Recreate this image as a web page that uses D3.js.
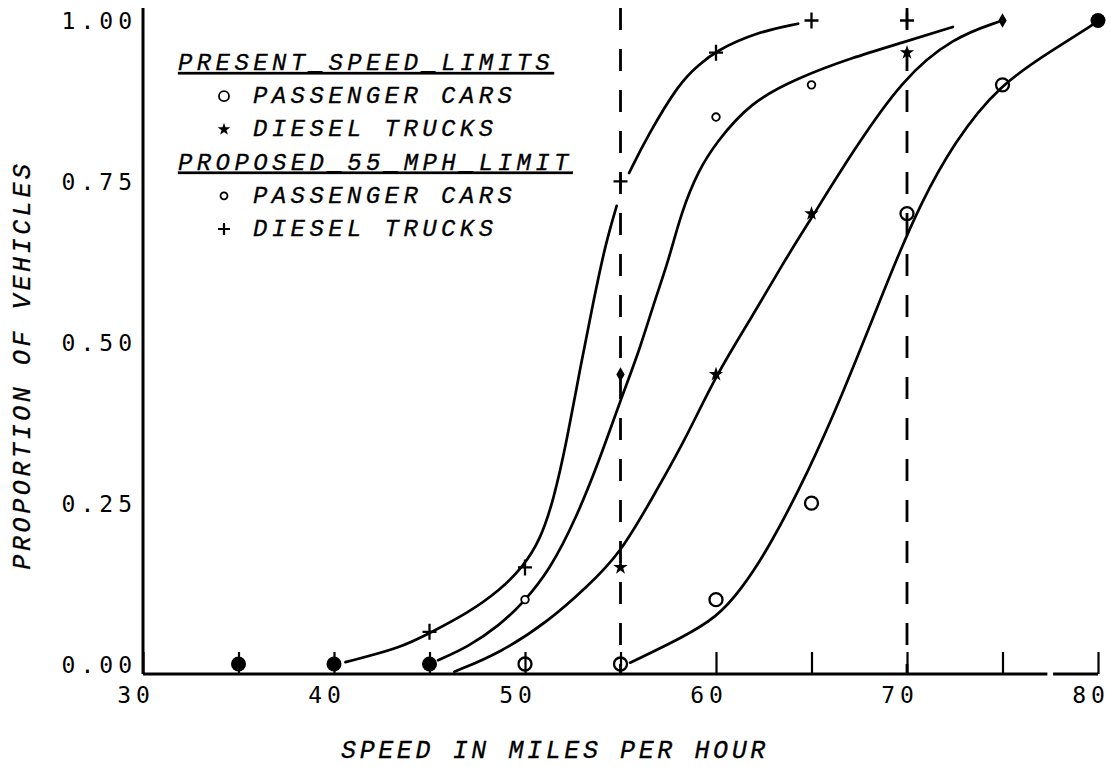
<!DOCTYPE html>
<html>
<head>
<meta charset="utf-8">
<script src="https://cdn.jsdelivr.net/npm/d3@7"></script>
<style>
  body { margin: 0; background: #fff; }
  svg { display: block; }
  .tick text { font-family: "DejaVu Sans Mono", monospace; font-size: 23px; letter-spacing: 5px; fill: #000; }
  .title { font-family: "Liberation Mono", "Courier New", monospace; font-style: italic; font-size: 25px; letter-spacing: 3.6px; fill: #000; stroke: #000; stroke-width: 0.3px; }
  .legend text { font-family: "Liberation Mono", "Courier New", monospace; font-style: italic; font-size: 24px; letter-spacing: 4.4px; fill: #000; stroke: #000; stroke-width: 0.3px; }
</style>
</head>
<body>
<svg width="1111" height="767"></svg>
<script>
// x ticks / y ticks
const xTicks = [30, 35, 40, 45, 50, 55, 60, 65, 70, 75, 80];
const yTicks = [0, 0.25, 0.5, 0.75, 1];
const limitLines = [55, 70];

// observed points (speed, proportion)
const presentCarsSpeed = [50, 55, 60, 65, 70, 75];
const presentCarsValue = [0, 0, 0.10, 0.25, 0.70, 0.90];
const presentTrucksSpeed = [55, 60, 65, 70];
const presentTrucksValue = [0.15, 0.45, 0.70, 0.95];
const proposedCarsSpeed = [50, 60, 65];
const proposedCarsValue = [0.10, 0.85, 0.90];
const proposedTrucksSpeed = [45, 50, 55, 60, 65, 70];
const proposedTrucksValue = [0.05, 0.15, 0.75, 0.95, 1.00, 1.00];
// points where several series coincide
const allSeriesSpeed = [35, 40, 45, 80];
const allSeriesValue = [0, 0, 0, 1];
const mixedSpeed = [55, 75];
const mixedValue = [0.45, 1.00];

// fitted curves
const propTruckLoSpeed = [40.6, 40.6, 43.5, 45.0, 47.0, 48.7, 49.9, 50.8, 51.5, 52.2, 52.9, 53.6, 54.2, 54.8, 54.8];
const propTruckLoValue = [0.003, 0.003, 0.025, 0.048, 0.079, 0.115, 0.151, 0.193, 0.255, 0.348, 0.462, 0.566, 0.651, 0.712, 0.712];
const propTruckHiSpeed = [55.45, 55.45, 56.4, 58.1, 59.1, 60.0, 62.15, 64.3, 64.3];
const propTruckHiValue = [0.763, 0.763, 0.82, 0.904, 0.931, 0.953, 0.982, 0.995, 0.995];
const propCarSpeed = [45.45, 45.45, 47.0, 48.7, 49.9, 51.3, 52.7, 53.9, 55.0, 56.0, 56.8, 57.5, 58.2, 59.1, 60.0, 61.8, 64.3, 67.1, 69.8, 72.4, 72.4];
const propCarValue = [0.006, 0.006, 0.026, 0.061, 0.095, 0.146, 0.228, 0.317, 0.41, 0.488, 0.566, 0.625, 0.704, 0.768, 0.81, 0.873, 0.911, 0.942, 0.966, 0.99, 0.99];
const presTruckSpeed = [46.3, 46.3, 48.7, 51.3, 53.25, 55.0, 56.7, 58.3, 60.05, 61.8, 63.55, 65.0, 67.1, 69.8, 72.45, 74.8, 74.8];
const presTruckValue = [-0.012, -0.012, 0.017, 0.068, 0.12, 0.172, 0.26, 0.343, 0.452, 0.535, 0.625, 0.693, 0.794, 0.911, 0.974, 0.998, 0.998];
const presCarSpeed = [55.5, 55.5, 58.3, 60.05, 61.3, 62.8, 64.8, 66.5, 68.6, 69.4, 70.7, 72.45, 74.8, 77.8, 79.8, 79.8];
const presCarValue = [0.002, 0.002, 0.042, 0.073, 0.115, 0.182, 0.297, 0.41, 0.566, 0.625, 0.715, 0.81, 0.9, 0.957, 0.995, 0.995];

const legendRows = [
  { label: "PRESENT_SPEED_LIMITS", head: true },
  { label: "PASSENGER CARS", mark: "bigCircle" },
  { label: "DIESEL TRUCKS", mark: "star" },
  { label: "PROPOSED_55_MPH_LIMIT", head: true },
  { label: "PASSENGER CARS", mark: "smallCircle" },
  { label: "DIESEL TRUCKS", mark: "plus" }
];

const svg = d3.select('svg');

const x = d3.scaleLinear().domain([30, 80]).range([143, 1098]);
const y = d3.scaleLinear().domain([0, 1]).range([664, 20.5]);
const axisY = y(0) + 10;
const topY = 8;

const zip = (s, v) => s.map((d, i) => [d, v[i]]);

// y axis
const yAxis = svg.append('g')
    .attr('transform', `translate(${x(30)},0)`)
    .call(d3.axisLeft(y).tickValues(yTicks).tickSize(0).tickPadding(10).tickFormat(d3.format('.2f')));
yAxis.select('.domain').remove();
yAxis.selectAll('text').attr('dx', 4).attr('dy', '0.35em');

svg.append('line')
    .attr('x1', x(30)).attr('x2', x(30))
    .attr('y1', topY).attr('y2', axisY)
    .attr('stroke', '#000').attr('stroke-width', 3);

// x axis with upward ticks
const xAxis = svg.append('g')
    .attr('transform', `translate(0,${axisY})`)
    .call(d3.axisBottom(x).tickValues(xTicks).tickSize(-22).tickSizeOuter(0)
      .tickFormat(d => d % 10 === 0 ? d : ''));
xAxis.select('.domain').attr('stroke-width', 3).attr('d', `M${x(30)},0H${x(80)}`);
xAxis.selectAll('.tick line').attr('stroke-width', 2.2);
xAxis.selectAll('text').attr('y', 13).attr('dy', '0.71em').attr('dx', -7.5);
// small break in the scanned axis line
svg.append('line')
    .attr('x1', x(77.35)).attr('x2', x(77.65))
    .attr('y1', axisY).attr('y2', axisY)
    .attr('stroke', '#fff').attr('stroke-width', 5);

// dashed limit lines
svg.selectAll('.limit')
    .data(limitLines)
    .enter().append('line')
    .attr('x1', d => x(d)).attr('x2', d => x(d))
    .attr('y1', topY).attr('y2', axisY)
    .attr('stroke', '#000').attr('stroke-width', 2.8)
    .attr('stroke-dasharray', '22,19');

// fitted curves (end points doubled so the B-spline reaches them)
const line = d3.line()
    .x(d => x(d[0]))
    .y(d => y(d[1]))
    .curve(d3.curveBasis);

const curves = [
  zip(propTruckLoSpeed, propTruckLoValue),
  zip(propTruckHiSpeed, propTruckHiValue),
  zip(propCarSpeed, propCarValue),
  zip(presTruckSpeed, presTruckValue),
  zip(presCarSpeed, presCarValue)
];
svg.selectAll('.curve')
    .data(curves)
    .enter().append('path')
    .attr('d', line)
    .attr('fill', 'none')
    .attr('stroke', '#000')
    .attr('stroke-width', 2.7)
    .attr('stroke-linecap', 'round');

// marker drawing
function drawMark(g, type) {
  if (type === 'bigCircle') {
    g.append('circle').attr('r', 6.5).attr('fill', 'none').attr('stroke', '#000').attr('stroke-width', 2.3);
  } else if (type === 'smallCircle') {
    g.append('circle').attr('r', 3.8).attr('fill', '#fff').attr('stroke', '#000').attr('stroke-width', 1.8);
  } else if (type === 'star') {
    g.append('path').attr('d', d3.symbol(d3.symbolStar, 65)()).attr('fill', '#000');
  } else if (type === 'plus') {
    g.append('path').attr('d', 'M-7,0H7M0,-8V8').attr('stroke', '#000').attr('stroke-width', 2.3);
  } else if (type === 'dot') {
    g.append('circle').attr('r', 7.5).attr('fill', '#000');
  } else if (type === 'diamond') {
    g.append('path').attr('d', d3.symbol(d3.symbolDiamond, 60)()).attr('fill', '#000');
  }
}

const markSets = [
  { pts: zip(allSeriesSpeed, allSeriesValue), type: 'dot' },
  { pts: zip(presentCarsSpeed, presentCarsValue), type: 'bigCircle' },
  { pts: zip(presentTrucksSpeed, presentTrucksValue), type: 'star' },
  { pts: zip(proposedCarsSpeed, proposedCarsValue), type: 'smallCircle' },
  { pts: zip(proposedTrucksSpeed, proposedTrucksValue), type: 'plus' },
  { pts: zip(mixedSpeed, mixedValue), type: 'diamond' }
];
markSets.forEach(set => {
  svg.selectAll(null)
      .data(set.pts)
      .enter().append('g')
      .attr('transform', d => `translate(${x(d[0])},${y(d[1])})`)
      .each(function() { drawMark(d3.select(this), set.type); });
});

// legend
const legend = svg.append('g').attr('class', 'legend');
const rowY = d3.scaleLinear().domain([0, 5]).range([70, 236]);
legendRows.forEach((r, i) => {
  if (r.head) {
    legend.append('text')
        .attr('x', 178).attr('y', rowY(i))
        .attr('text-decoration', 'underline')
        .text(r.label);
  } else {
    const g = legend.append('g').attr('transform', `translate(224,${rowY(i) - 7})`);
    if (r.mark === 'bigCircle') {
      g.append('circle').attr('r', 5).attr('fill', 'none').attr('stroke', '#000').attr('stroke-width', 1.8);
    } else if (r.mark === 'smallCircle') {
      g.append('circle').attr('r', 3.5).attr('fill', 'none').attr('stroke', '#000').attr('stroke-width', 1.8);
    } else if (r.mark === 'star') {
      g.append('path').attr('d', d3.symbol(d3.symbolStar, 50)()).attr('fill', '#000');
    } else {
      g.append('path').attr('d', 'M-6,0H6M0,-6V6').attr('stroke', '#000').attr('stroke-width', 2.2);
    }
    legend.append('text')
        .attr('x', 253).attr('y', rowY(i))
        .text(r.label);
  }
});

// axis titles
svg.append('text')
    .attr('class', 'title')
    .attr('x', 555).attr('y', 758)
    .attr('text-anchor', 'middle')
    .text('SPEED IN MILES PER HOUR');

svg.append('text')
    .attr('class', 'title')
    .attr('transform', 'translate(30,365) rotate(-90)')
    .attr('text-anchor', 'middle')
    .text('PROPORTION OF VEHICLES');
</script>
</body>
</html>
